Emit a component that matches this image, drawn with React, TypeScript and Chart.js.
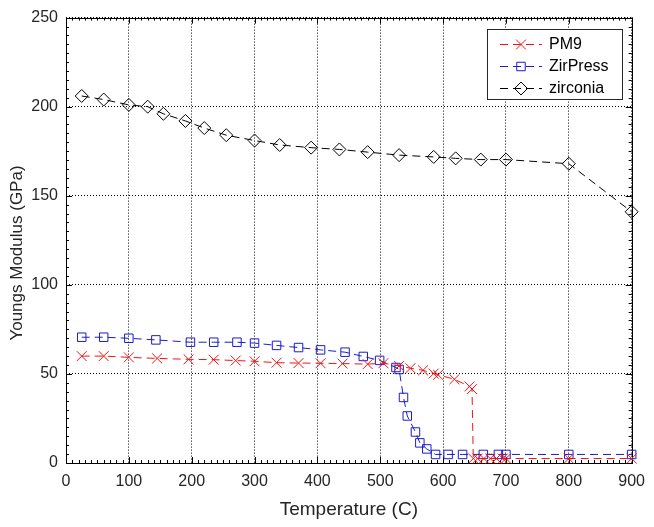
import React, { useEffect, useRef } from 'react';
import { Chart, registerables } from 'chart.js';
import { drawPoint } from 'chart.js/helpers';

Chart.register(...registerables);

const seriesNames = ['PM9', 'ZirPress', 'zirconia'];

const pm9Temp = [25, 60, 100, 145, 195, 235, 270, 300, 335, 370, 405, 440, 480, 505, 530, 548, 568, 585, 592, 618, 642, 646, 648, 655, 665, 675, 685, 695, 700, 800, 900];
const pm9Modulus = [60, 60, 59.3, 58.7, 58.2, 58, 57.5, 57.1, 56.3, 56.1, 56, 55.8, 55.5, 56, 54.5, 53.2, 52, 50.2, 49.5, 47, 43, 41.5, 2.5, 2.5, 2.5, 2.5, 2.5, 2.5, 2.5, 2.5, 2.5];

const zirPressTemp = [25, 60, 100, 143, 198, 235, 272, 300, 335, 370, 405, 444, 473, 499, 525, 530, 537, 543, 556, 563, 574, 588, 608, 631, 664, 688, 700, 800, 900];
const zirPressModulus = [70.6, 70.6, 70, 69.1, 67.8, 67.8, 67.8, 67.3, 66, 64.8, 63.5, 62.2, 59.8, 57.6, 53.6, 52.5, 36.8, 26.4, 17.4, 11.3, 7.9, 4.8, 4.8, 4.8, 4.8, 4.8, 4.8, 4.8, 4.8];

const zirconiaTemp = [25, 60, 100, 130, 155, 190, 220, 255, 300, 340, 390, 435, 480, 530, 585, 620, 660, 700, 800, 900];
const zirconiaModulus = [206, 204, 201, 200, 196, 192, 188, 184, 181, 178.5, 177, 176, 174.5, 172.8, 171.8, 171, 170.3, 170.3, 168, 141];

const xTicks = [0, 100, 200, 300, 400, 500, 600, 700, 800, 900];
const yTicks = [0, 50, 100, 150, 200, 250];

const xTitle = 'Temperature (C)';
const yTitle = 'Youngs Modulus (GPa)';

const FONT = '"Liberation Sans", Arial, Helvetica, sans-serif';
const TEXT_COLOR = '#262626';

const framePlugin = {
  id: 'matlabFrame',
  beforeDatasetsDraw(chart: any) {
    const { ctx, chartArea: a, scales } = chart;
    const xs = scales.x;
    const ys = scales.y;
    ctx.save();
    ctx.strokeStyle = '#000';
    ctx.lineWidth = 1;
    ctx.setLineDash([]);
    ctx.beginPath();
    for (let v = 0; v <= 900; v += 10) {
      const px = Math.round(xs.getPixelForValue(v)) + 0.5;
      ctx.moveTo(px, a.bottom); ctx.lineTo(px, a.bottom - 3);
      ctx.moveTo(px, a.top); ctx.lineTo(px, a.top + 3);
    }
    for (let v = 0; v <= 250; v += 5) {
      const py = Math.round(ys.getPixelForValue(v)) + 0.5;
      ctx.moveTo(a.left, py); ctx.lineTo(a.left + 3, py);
      ctx.moveTo(a.right, py); ctx.lineTo(a.right - 3, py);
    }
    xTicks.forEach((v) => {
      const px = Math.round(xs.getPixelForValue(v)) + 0.5;
      ctx.moveTo(px, a.bottom); ctx.lineTo(px, a.bottom - 6);
      ctx.moveTo(px, a.top); ctx.lineTo(px, a.top + 6);
    });
    yTicks.forEach((v) => {
      const py = Math.round(ys.getPixelForValue(v)) + 0.5;
      ctx.moveTo(a.left, py); ctx.lineTo(a.left + 6, py);
      ctx.moveTo(a.right, py); ctx.lineTo(a.right - 6, py);
    });
    ctx.stroke();
    ctx.strokeRect(Math.round(a.left) + 0.5, Math.round(a.top) + 0.5, Math.round(a.right - a.left), Math.round(a.bottom - a.top));

    ctx.fillStyle = TEXT_COLOR;
    ctx.textAlign = 'center';
    ctx.textBaseline = 'middle';
    ctx.font = `19px ${FONT}`;
    ctx.fillText(xTitle, (a.left + a.right) / 2, 510);
    ctx.font = `17px ${FONT}`;
    ctx.save();
    ctx.translate(17, 253);
    ctx.rotate(-Math.PI / 2);
    ctx.fillText(yTitle, 0, 0);
    ctx.restore();
    ctx.restore();
  },
  afterDatasetsDraw(chart: any) {
    const { ctx } = chart;
    const bx = 487, by = 29, bw = 135, bh = 70;
    ctx.save();
    ctx.fillStyle = '#fff';
    ctx.fillRect(bx, by, bw, bh);
    ctx.strokeStyle = '#262626';
    ctx.lineWidth = 1;
    ctx.strokeRect(bx + 0.5, by + 0.5, bw, bh);
    chart.data.datasets.forEach((ds: any, i: number) => {
      const y = by + 15.5 + i * 22;
      ctx.strokeStyle = ds.borderColor;
      ctx.lineWidth = 1;
      ctx.setLineDash(ds.borderDash);
      ctx.beginPath();
      ctx.moveTo(500, y); ctx.lineTo(542, y);
      ctx.stroke();
      ctx.setLineDash([]);
      ctx.fillStyle = 'rgba(0,0,0,0)';
      drawPoint(ctx, { pointStyle: ds.pointStyle, radius: ds.pointRadius, borderWidth: 1, rotation: 0 }, 521, y);
      ctx.fillStyle = '#000';
      ctx.font = `16px ${FONT}`;
      ctx.textAlign = 'left';
      ctx.textBaseline = 'middle';
      ctx.fillText(ds.label, 549, y);
    });
    ctx.restore();
  },
};

function toPoints(xsArr: number[], ysArr: number[]) {
  return xsArr.map((x, i) => ({ x, y: ysArr[i] }));
}

export default function App() {
  const ref = useRef<HTMLCanvasElement | null>(null);
  useEffect(() => {
    document.body.style.margin = '0';
    const canvas = ref.current;
    if (!canvas) return;
    const dash = [8, 5];
    const chart = new Chart(canvas, {
      type: 'line',
      data: {
        datasets: [
          {
            label: seriesNames[0],
            data: toPoints(pm9Temp, pm9Modulus),
            borderColor: '#f01414',
            backgroundColor: 'rgba(0,0,0,0)',
            borderWidth: 1,
            borderDash: dash,
            pointStyle: 'crossRot',
            pointRadius: 7,
            pointBorderWidth: 1,
            pointBorderColor: '#f01414',
            pointBackgroundColor: 'rgba(0,0,0,0)',
            clip: false,
          },
          {
            label: seriesNames[1],
            data: toPoints(zirPressTemp, zirPressModulus),
            borderColor: '#1c1cc8',
            backgroundColor: 'rgba(0,0,0,0)',
            borderWidth: 1,
            borderDash: dash,
            pointStyle: 'rect',
            pointRadius: 6,
            pointBorderWidth: 1,
            pointBorderColor: '#1c1cc8',
            pointBackgroundColor: 'rgba(0,0,0,0)',
            clip: false,
          },
          {
            label: seriesNames[2],
            data: toPoints(zirconiaTemp, zirconiaModulus),
            borderColor: '#000000',
            backgroundColor: 'rgba(0,0,0,0)',
            borderWidth: 1,
            borderDash: dash,
            pointStyle: 'rectRot',
            pointRadius: 6.5,
            pointBorderWidth: 1,
            pointBorderColor: '#000000',
            pointBackgroundColor: 'rgba(0,0,0,0)',
            clip: false,
          },
        ],
      },
      options: {
        responsive: false,
        animation: false,
        events: [],
        layout: { padding: { top: 14, right: 21, left: 0, bottom: 0 } },
        plugins: { legend: { display: false }, tooltip: { enabled: false }, title: { display: false } },
        scales: {
          x: {
            type: 'linear',
            min: 0,
            max: 900,
            afterBuildTicks: (s: any) => { s.ticks = xTicks.map((v) => ({ value: v })); },
            afterFit: (s: any) => { s.height = 64; },
            grid: { drawTicks: false, color: '#000', lineWidth: 1 },
            border: { display: false, dash: [1, 2] },
            ticks: {
              autoSkip: false,
              maxRotation: 0,
              padding: 9,
              color: TEXT_COLOR,
              font: { family: FONT, size: 16 },
            },
          },
          y: {
            type: 'linear',
            min: 0,
            max: 250,
            afterBuildTicks: (s: any) => { s.ticks = yTicks.map((v) => ({ value: v })); },
            afterFit: (s: any) => { s.width = 66; },
            grid: { drawTicks: false, color: '#000', lineWidth: 1 },
            border: { display: false, dash: [1, 2] },
            ticks: {
              autoSkip: false,
              padding: 8,
              color: TEXT_COLOR,
              font: { family: FONT, size: 16 },
            },
          },
        },
      },
      plugins: [framePlugin],
    } as any);
    return () => chart.destroy();
  }, []);
  return <canvas ref={ref} width={654} height={527} style={{ display: 'block' }} />;
}
